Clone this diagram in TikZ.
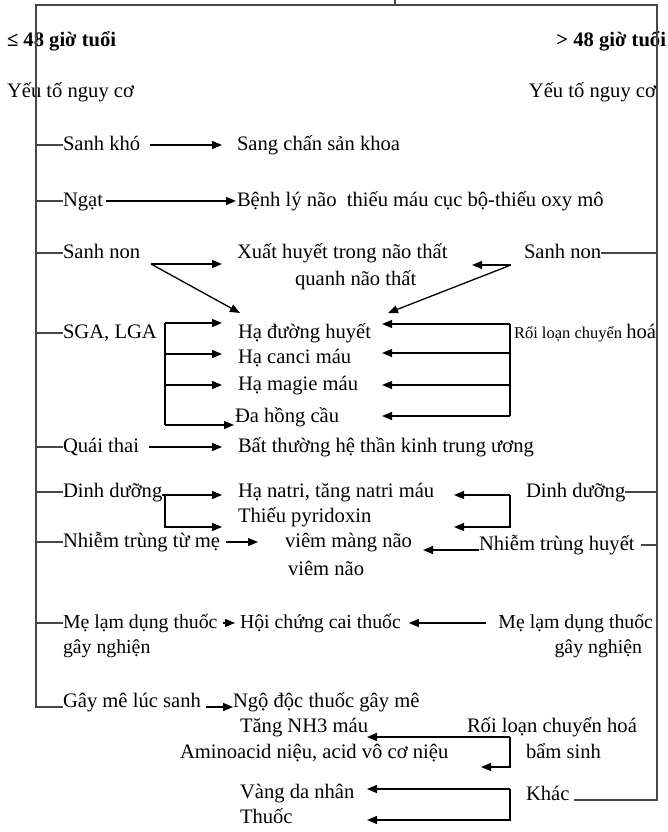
\documentclass[tikz,border=0pt]{standalone}
\usepackage{fontspec}
\setmainfont{Liberation Serif}
\usetikzlibrary{arrows.meta,calc}
\begin{document}
\begin{tikzpicture}[x=1pt,y=-1pt,
  txt/.style={anchor=west,inner sep=0pt,outer sep=0pt,font=\fontsize{20.6}{25}\selectfont,text height=14pt,text depth=4pt},
  txtr/.style={txt,anchor=east},
  small/.style={font=\fontsize{19.8}{24}\selectfont},
  head/.style={txt,font=\fontsize{20.6}{25}\selectfont\bfseries},
  wire/.style={line width=1.3pt,black},
  frame/.style={line width=1.7pt,black!72},
  arr/.style={wire,-{Triangle[length=10pt,width=8pt]}}]
\useasboundingbox (0,0) rectangle (668,832);

% ---- headings
\node[head] (hL) at (7,42) {≤ 48 giờ tuổi};
\node[head,anchor=east] (hR) at (666,42) {> 48 giờ tuổi};
\node[txt] (yL) at (7,93) {Yếu tố nguy cơ};
\node[txtr] (yR) at (656,93) {Yếu tố nguy cơ};

% ---- causes, left column (<= 48 h)
\node[txt] (skL) at (63,145) {Sanh khó};
\node[txt] (ngL) at (63,201) {Ngạt};
\node[txt] (snL) at (63,253) {Sanh non};
\node[txt] (sgL) at (63,333) {SGA, LGA};
\node[txt] (qtL) at (63,447) {Quái thai};
\node[txt] (ddL) at (63,492) {Dinh dưỡng};
\node[txt] (ntL) at (63,542) {Nhiễm trùng từ mẹ};
\node[txt,small] (mlL) at (63,623) {Mẹ lạm dụng thuốc};
\node[txt,small] (mlL2) at (63,648) {gây nghiện};
\node[txt] (gmL) at (63,702) {Gây mê lúc sanh};

% ---- consequences, middle
\node[txt] (sck) at (237,145) {Sang chấn sản khoa};
\node[txt] (bl) at (237,201) {Bệnh lý não~ thiếu máu cục bộ-thiếu oxy mô};
\node[txt] (xh1) at (237,253) {Xuất huyết trong não thất};
\node[txt] (xh2) at (295,280) {quanh não thất};
\node[txt] (hdh) at (238,333) {Hạ đường huyết};
\node[txt] (hcm) at (238,358) {Hạ canci máu};
\node[txt] (hmm) at (238,385) {Hạ magie máu};
\node[txt] (dhc) at (235,417) {Đa hồng cầu};
\node[txt] (btt) at (238,447) {Bất thường hệ thần kinh trung ương};
\node[txt] (hnt) at (238,492) {Hạ natri, tăng natri máu};
\node[txt] (tpy) at (238,517) {Thiếu pyridoxin};
\node[txt] (vmn) at (285,542) {viêm màng não};
\node[txt] (vn) at (288,570) {viêm não};
\node[txt,small] (hcc) at (240,623) {Hội chứng cai thuốc};
\node[txt] (ndt) at (233,702) {Ngộ độc thuốc gây mê};
\node[txt] (tnh) at (240,727) {Tăng NH3 máu};
\node[txt] (ami) at (180,753) {Aminoacid niệu, acid vô cơ niệu};
\node[txt] (vdn) at (240,793) {Vàng da nhân};
\node[txt] (thu) at (240,818) {Thuốc};

% ---- causes, right column (> 48 h)
\node[txt] (snR) at (524,253) {Sanh non};
\node[txt] (rlR) at (514,333) {{\fontsize{16.5}{20}\selectfont Rối loạn chuyển }hoá};
\node[txt] (ddR) at (526,492) {Dinh dưỡng};
\node[txt] (ntR) at (479,545) {Nhiễm trùng huyết};
\node[txtr,small] (mlR) at (653,623) {Mẹ lạm dụng thuốc};
\node[txtr,small] (mlR2) at (642,648) {gây nghiện};
\node[txt] (rbR) at (467,727) {Rối loạn chuyển hoá};
\node[txt] (bsR) at (526,753) {bẩm sinh};
\node[txt] (khR) at (526,795) {Khác};

% ---- outer frame and branch ticks
\coordinate (lt) at (36,5);
\coordinate (rt) at (657,5);
\coordinate (tk) at (395,0);
\draw[frame,shorten >=5pt] (gmL.base west) -- (gmL.base west -| lt) -- (lt) -- (rt)
  -- (rt |- khR.base) -- (khR.base east);
\draw[frame] (tk) -- (tk |- lt);
\foreach \n in {skL,ngL,snL,sgL,qtL,ddL,ntL,mlL}
  \draw[frame] (\n.west -| lt) -- (\n.west);
\draw[frame] (snR.east) -- (snR.east -| rt);
\draw[frame] (ddR.east) -- (ddR.east -| rt);
\draw[frame,shorten <=6pt] (ntR.east) -- (ntR.east -| rt);

% ---- arrow tip columns
\coordinate (tipL) at (222,0);
\coordinate (tipR) at (382,0);
\coordinate (tipD) at (454,0);
\coordinate (tipT) at (367,0);
\coordinate (tipA) at (481,0);

% ---- left arrows
\draw[arr,shorten <=10pt,shorten >=15pt] (skL.east) -- (sck.west);
\draw[arr,shorten <=3pt,shorten >=1pt] (ngL.east) -- (bl.west);
\coordinate (snJ) at (151,264);
\coordinate (hdhA) at (240,313);
\draw[arr] (snJ) -- (snJ -| tipL);
\draw[arr] (snJ) -- (hdhA);
\coordinate (sa1) at (165,323);
\coordinate (sa2) at (165,354);
\coordinate (sa3) at (165,385);
\coordinate (sa4) at (165,425);
\draw[wire] (sa1) -- (sa4);
\draw[arr] (sa1) -- (sa1 -| tipL);
\draw[arr] (sa2) -- (sa2 -| tipL);
\draw[arr] (sa3) -- (sa3 -| tipL);
\draw[arr,shorten >=1pt] (sa4) -- (sa4 -| dhc.west);
\draw[arr,shorten <=10pt,shorten >=16pt] (qtL.east) -- (btt.west);
\coordinate (da1) at (165,495);
\coordinate (da2) at (165,527);
\draw[arr] (ddL.east |- da1) -- (da1 -| tipL);
\draw[arr] (da1) -- (da2) -- (da2 -| tipL);
\draw[arr,shorten <=6pt,shorten >=27pt] (ntL.east) -- (vmn.west);
\draw[arr,shorten <=5pt,shorten >=5pt] (mlL.east) -- (hcc.west);
\draw[arr,shorten <=5pt] (gmL.base east) -- (ndt.base west);

% ---- right arrows
\coordinate (snK) at (511,265);
\coordinate (xhA) at (472,265);
\coordinate (hdhB) at (388,313);
\draw[arr] (snK) -- (xhA);
\draw[arr] (snK) -- (hdhB);
\coordinate (ra1) at (510,324);
\coordinate (ra2) at (510,353);
\coordinate (ra3) at (510,385);
\coordinate (ra4) at (510,416);
\draw[wire] (ra1) -- (ra4);
\draw[arr] (ra1) -- (ra1 -| tipR);
\draw[arr] (ra2) -- (ra2 -| tipR);
\draw[arr] (ra3) -- (ra3 -| tipR);
\draw[arr] (ra4) -- (ra4 -| tipR);
\coordinate (db1) at (510,495);
\coordinate (db2) at (510,527);
\draw[arr] (db1) -- (db1 -| tipD);
\draw[arr] (db1) -- (db2) -- (db2 -| tipD);
\draw[arr,shorten >=11pt] (ntR.base west) -- (ntR.base west -| vmn.east);
\draw[arr,shorten <=12pt,shorten >=8pt] (mlR.west) -- (hcc.east);
\coordinate (bb1) at (510,737);
\coordinate (bb2) at (510,767);
\draw[arr] (bb1) -- (bb1 -| tipT);
\draw[arr] (bb1) -- (bb2) -- (bb2 -| tipA);
\coordinate (kb1) at (510,789);
\coordinate (kb2) at (510,820);
\draw[arr] (kb1) -- (kb1 -| tipT);
\draw[arr] (kb1) -- (kb2) -- (kb2 -| tipT);
\end{tikzpicture}
\end{document}
